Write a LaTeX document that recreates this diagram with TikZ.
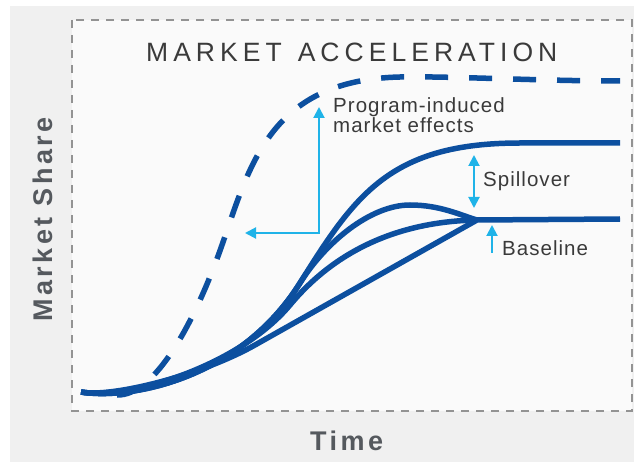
\documentclass[tikz,border=0pt]{standalone}
\usepackage{xcolor}
\usepackage{fontspec}
\setmainfont{Liberation Sans}
\newfontfamily\titlefont[LetterSpace=19]{Liberation Sans}
\newfontfamily\notefont[LetterSpace=5]{Liberation Sans}
\newfontfamily\axisfont[LetterSpace=13]{Liberation Sans}
\usepackage{tikz}
\usetikzlibrary{arrows.meta,positioning}

\definecolor{curveblue}{HTML}{0C4F9F}
\definecolor{pointerblue}{HTML}{1FB3E8}
\definecolor{panelgray}{HTML}{F0F0F0}
\definecolor{boxwhite}{HTML}{FAFAFA}
\definecolor{axisgray}{HTML}{55595E}
\definecolor{notegray}{HTML}{3A3A3A}

\begin{document}
\begin{tikzpicture}[x=1pt, y=-1pt,
    growth/.style={curveblue, line width=5.5pt},
    forecast/.style={growth, dash pattern=on 23pt off 21pt},
    pointer/.style={pointerblue, line width=2pt, >={Triangle[width=11pt,length=11pt]}},
    annot/.style={font=\notefont\fontsize{20.5}{20}\selectfont, text=notegray, inner sep=0pt, anchor=base west},
    axistitle/.style={font=\axisfont\bfseries\fontsize{27}{30}\selectfont, text=axisgray, inner sep=0pt, anchor=base west}]
    \useasboundingbox (0,0) rectangle (634,462);

    % Panel and plot area
    \fill[panelgray] (10,6) rectangle (634,462);
    \filldraw[fill=boxwhite, draw=gray!85, line width=1.3pt, dash pattern=on 8pt off 7pt] (72,20) rectangle (632,411);

    % Title and axis names
    \node[font=\titlefont\fontsize{26.5}{30}\selectfont, text=notegray, inner sep=0pt, anchor=base west] (title) at (146,62) {MARKET\hspace{16pt}ACCELERATION};
    \node[axistitle] (time) at (310,450) {Time};
    \node[axistitle, rotate=90] (share) at (52,322) {Market Share};

    % Program-induced market curve
    \draw[forecast] (117,395) .. controls (155,396) and (195,322) .. (222,245) .. controls (250,165) and (270,80) .. (400,77) .. controls (450,76) and (540,81) .. (620,81);

    % Curves with spillover
    \draw[growth] (81,392) .. controls (130,400) and (240,379) .. (300,283) .. controls (355,195) and (390,143) .. (520,143) -- (620,143);
    \draw[growth] (81,392) .. controls (130,400) and (240,379) .. (300,283) .. controls (325,243) and (370,205) .. (410,205) .. controls (440,205) and (460,215) .. (477,220);
    \draw[growth] (81,392) .. controls (130,400) and (240,365) .. (290,305) .. controls (315,275) and (370,222) .. (477,220);

    % Baseline curve
    \draw[growth] (81,392) .. controls (110,398) and (200,376) .. (255,345) -- (477,220) -- (620,219);

    % Markers
    \coordinate (effectsleft) at (245,233);
    \coordinate (effectscorner) at (319,233);
    \coordinate (effectstop) at (319,107);
    \draw[pointer, <->] (effectsleft) -- (effectscorner) -- (effectstop);
    \node[annot, align=left] (effects) at (333,133) {Program-induced\\market effects};

    \coordinate (spilltop) at (474,155);
    \coordinate (spillbottom) at (474,208);
    \draw[pointer, <->] (spilltop) -- (spillbottom);
    \node[annot] (spillover) at (483,187) {Spillover};

    \coordinate (basetail) at (492,253);
    \coordinate (basetip) at (492,225);
    \draw[pointer, ->] (basetail) -- (basetip);
    \node[annot] (baseline) at (502,256) {Baseline};

\end{tikzpicture}
\end{document}
